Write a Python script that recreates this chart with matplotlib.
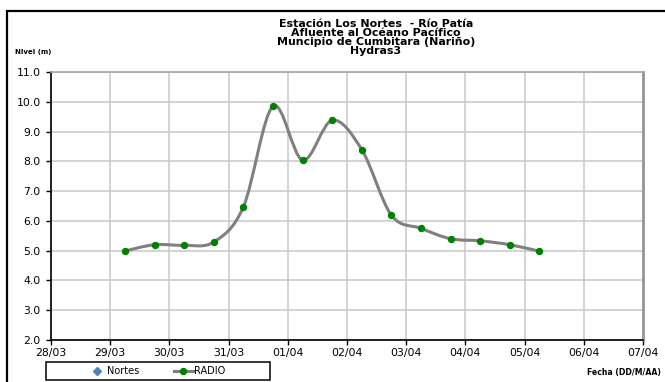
import matplotlib
matplotlib.use("Agg")
import matplotlib.pyplot as plt
import matplotlib.dates as mdates
from matplotlib.path import Path
from matplotlib.patches import PathPatch, Rectangle
from matplotlib.lines import Line2D
import pandas as pd

# lecturas de nivel (m), estacion Los Nortes - Rio Patia
fechas = ["29/03 06:00", "29/03 18:00", "30/03 06:00", "30/03 18:00",
          "31/03 06:00", "31/03 18:00", "01/04 06:00", "01/04 18:00",
          "02/04 06:00", "02/04 18:00", "03/04 06:00", "03/04 18:00",
          "04/04 06:00", "04/04 18:00", "05/04 06:00"]
radio = [4.99, 5.20, 5.18, 5.29, 6.47, 9.85, 8.04, 9.38,
         8.39, 6.19, 5.75, 5.40, 5.33, 5.20, 4.98]

dias_eje = ["28/03", "29/03", "30/03", "31/03", "01/04", "02/04",
            "03/04", "04/04", "05/04", "06/04", "07/04"]
niveles_eje = [2, 3, 4, 5, 6, 7, 8, 9, 10, 11]

titulo = ("Estación Los Nortes  - Río Patía\n"
          "Afluente al Océano Pacífico\n"
          "Muncipio de Cumbitara (Nariño)\n"
          "Hydras3")

plt.rcParams['font.family'] = ['DejaVu Sans']

x = mdates.date2num(pd.to_datetime(fechas, format="%d/%m %H:%M"))
xt = mdates.date2num(pd.to_datetime(dias_eje, format="%d/%m"))

W, H = 665, 382
fig = plt.figure(figsize=(W / 100, H / 100), dpi=100)
ax = fig.add_axes([51 / W, 1 - 340 / H, (643 - 51) / W, (340 - 72) / H])

# linea suavizada tipo Excel (Bezier con puntos de control Catmull-Rom)
pts = list(zip(x, radio))
verts = [pts[0]]
codes = [Path.MOVETO]
n = len(pts)
for i in range(n - 1):
    p0 = pts[max(i - 1, 0)]
    p1 = pts[i]
    p2 = pts[i + 1]
    p3 = pts[min(i + 2, n - 1)]
    c1 = (p1[0] + (p2[0] - p0[0]) / 6, p1[1] + (p2[1] - p0[1]) / 6)
    c2 = (p2[0] - (p3[0] - p1[0]) / 6, p2[1] - (p3[1] - p1[1]) / 6)
    verts += [c1, c2, p2]
    codes += [Path.CURVE4] * 3
ax.add_patch(PathPatch(Path(verts, codes), facecolor='none',
                       edgecolor='#808080', lw=2.2, zorder=3,
                       capstyle='round'))
ax.plot(x, radio, ls='none', marker='o', ms=4.3, color='#008000',
        mec='#008000', zorder=4)

ax.set_xlim(xt[0], xt[-1])
ax.set_ylim(2, 11)
ax.set_xticks(xt)
ax.set_xticklabels(dias_eje)
ax.set_yticks(niveles_eje)
ax.set_yticklabels(["%.1f" % v for v in niveles_eje])
ax.grid(True, color='#C8C8C8', lw=1.1)
ax.set_axisbelow(True)
ax.tick_params(axis='both', direction='out', length=3.5, width=1,
               labelsize=7.8, colors='black')
ax.tick_params(axis='y', pad=4)
ax.tick_params(axis='x', pad=2)
for s in ['left', 'bottom']:
    ax.spines[s].set_color('black')
    ax.spines[s].set_linewidth(1.2)
ax.spines['top'].set_color('#A6A6A6')
ax.spines['top'].set_linewidth(1.2)
ax.spines['right'].set_color('#969696')
ax.spines['right'].set_linewidth(2)

fig.text(376 / W, 1 - 19 / H, titulo, ha='center', va='top',
         fontsize=7.9, fontweight='bold', linespacing=0.86)
fig.text(15 / W, 1 - 52 / H, "Nivel (m)", ha='left', va='center',
         fontsize=5, fontweight='bold')
fig.text(661 / W, 1 - 373 / H, "Fecha (DD/M/AA)", ha='right', va='center',
         fontsize=5.6, fontweight='bold')

# marco exterior del grafico
fig.add_artist(Rectangle((7 / W, -0.2), 1.2, 1.2 - 11 / H,
                         transform=fig.transFigure, fill=False,
                         ec='black', lw=1.6, clip_on=False))

# leyenda
h1 = Line2D([], [], ls='none', marker='D', ms=3.8, color='#4F81BD')
h2 = Line2D([], [], color='#808080', lw=2.2, marker='o', ms=4.3,
            mfc='#008000', mec='#008000')
fig.add_artist(Rectangle((46 / W, 1 - 380 / H), 224 / W, 18 / H,
                         transform=fig.transFigure, fill=False,
                         ec='black', lw=1.1))
fig.legend([h1, h2], ["Nortes", "RADIO"], loc='center left',
           bbox_to_anchor=(87 / W, 1 - 371 / H), ncol=2, frameon=False,
           fontsize=7, handlelength=2, handletextpad=0.1,
           columnspacing=3.5, borderpad=0, borderaxespad=0)

fig.savefig("out.png", dpi=100, facecolor='white')
